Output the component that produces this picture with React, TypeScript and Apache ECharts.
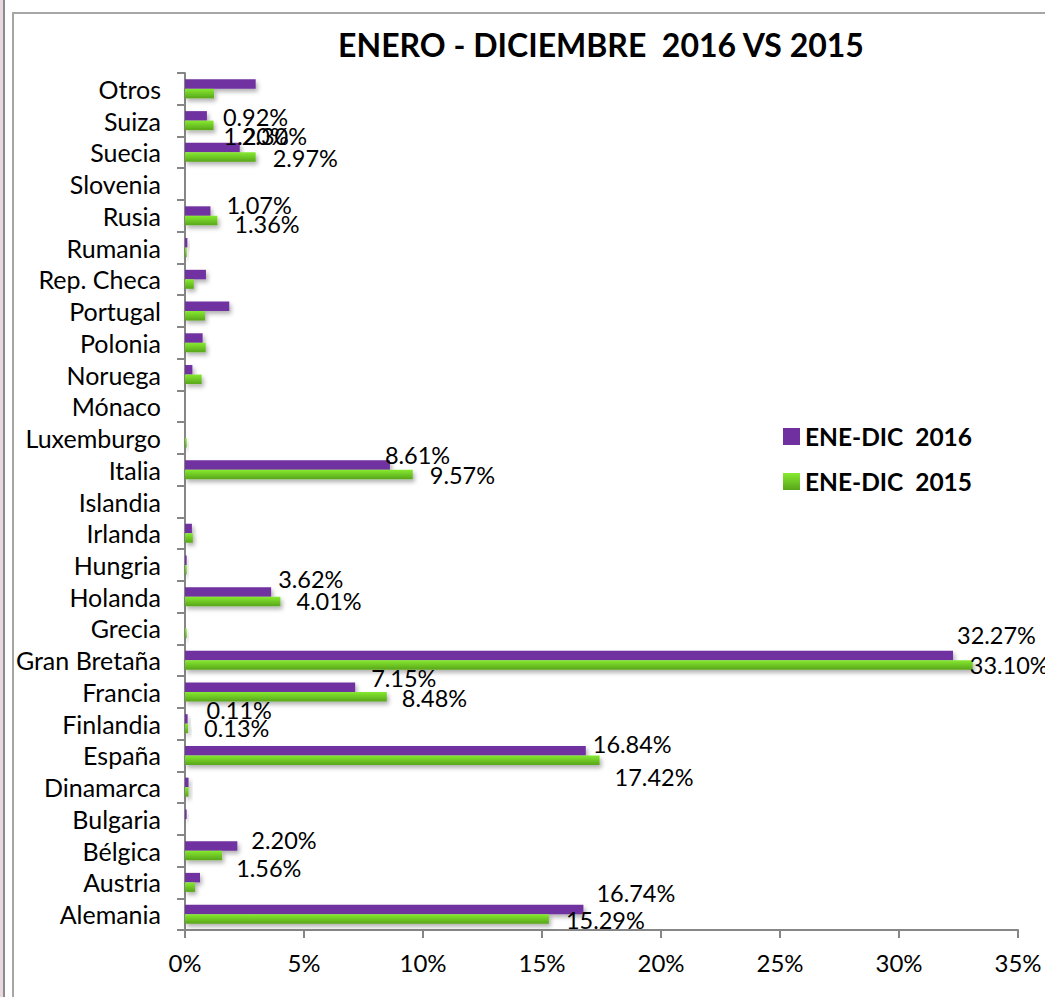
import React, { useEffect, useRef } from "react";
import * as echarts from "echarts";

const categories = [
  "Alemania", "Austria", "Bélgica", "Bulgaria", "Dinamarca", "España", "Finlandia",
  "Francia", "Gran Bretaña", "Grecia", "Holanda", "Hungria", "Irlanda", "Islandia",
  "Italia", "Luxemburgo", "Mónaco", "Noruega", "Polonia", "Portugal", "Rep. Checa",
  "Rumania", "Rusia", "Slovenia", "Suecia", "Suiza", "Otros",
];

const values2016 = [
  16.74, 0.63, 2.2, 0.07, 0.15, 16.84, 0.11,
  7.15, 32.27, 0, 3.62, 0.07, 0.29, 0,
  8.61, 0, 0, 0.31, 0.74, 1.86, 0.88,
  0.1, 1.07, 0, 2.3, 0.92, 2.97,
];

const values2015 = [
  15.29, 0.42, 1.56, 0, 0.15, 17.42, 0.13,
  8.48, 33.1, 0.07, 4.01, 0.07, 0.33, 0,
  9.57, 0.07, 0, 0.7, 0.87, 0.84, 0.37,
  0.07, 1.36, 0, 2.97, 1.2, 1.22,
];

const xTicks = [0, 5, 10, 15, 20, 25, 30, 35];

const seriesNames = ["ENE-DIC  2016", "ENE-DIC  2015"];
const title = "ENERO - DICIEMBRE  2016 VS 2015";

// which bars carry a value label, and where it is nudged (style only)
const labelOffsets2016: Record<string, [number, number]> = {
  Suiza: [11, 1],
  Suecia: [-3, -12],
  Rusia: [11, -6],
  Italia: [-10, -10],
  Holanda: [2, -13],
  "Gran Bretaña": [-1, -20],
  Francia: [11, -9],
  Finlandia: [14, -9],
  España: [2, -7],
  Bélgica: [9, -6],
  Alemania: [8, -16],
};
const labelOffsets2015: Record<string, [number, number]> = {
  Suiza: [5, 11],
  Suecia: [12, 1],
  Rusia: [12, 3],
  Italia: [12, 0],
  Holanda: [11, 0],
  "Gran Bretaña": [-8, 0],
  Francia: [10, 1],
  Finlandia: [11, 0],
  España: [10, 17],
  Bélgica: [9, 13],
  Alemania: [12, 1],
};

const FONT = "Lato, 'Open Sans', sans-serif";
const PURPLE = "#7030A0";
const greenGrad = () =>
  new echarts.graphic.LinearGradient(0, 0, 0, 1, [
    { offset: 0, color: "#86ea30" },
    { offset: 1, color: "#58a51a" },
  ]);

function buildData(vals: number[], offsets: Record<string, [number, number]>) {
  return vals.map((v, i) => {
    const off = offsets[categories[i]];
    if (!off) return { value: v, label: { show: false } };
    return {
      value: v,
      label: {
        show: true,
        position: "right",
        offset: off,
        formatter: (p: any) => `${Number(p.value).toFixed(2)}%`,
      },
    };
  });
}

export default function App() {
  const ref = useRef<HTMLDivElement>(null);
  useEffect(() => {
    if (!ref.current) return;
    const chart = echarts.init(ref.current, null, { renderer: "svg" });
    const labelStyle = { fontFamily: FONT, fontSize: 23.5, color: "#000" };
    chart.setOption({
      animation: false,
      backgroundColor: "#fff",
      title: {
        text: title,
        left: 596,
        top: 23,
        textAlign: "center",
        textStyle: { fontFamily: FONT, fontSize: 32, fontWeight: "bold", color: "#000" },
      },
      legend: {
        orient: "vertical",
        left: 778,
        top: 419,
        itemWidth: 17,
        itemHeight: 17,
        itemGap: 20,
        icon: "rect",
        data: seriesNames,
        textStyle: { fontFamily: FONT, fontSize: 24.5, fontWeight: "bold", color: "#000", padding: [0, 0, 0, 0] },
      },
      grid: { left: 185, right: 27, top: 73, bottom: 67, containLabel: false },
      xAxis: {
        type: "value",
        min: xTicks[0],
        max: xTicks[xTicks.length - 1],
        interval: 5,
        splitLine: { show: false },
        axisLine: { show: true, lineStyle: { color: "#868686", width: 2 } },
        axisTick: { show: true, length: 8, lineStyle: { color: "#868686", width: 2 } },
        axisLabel: {
          margin: 20,
          formatter: (v: number) => `${v}%`,
          fontFamily: FONT,
          fontSize: 24,
          color: "#000",
        },
      },
      yAxis: {
        type: "category",
        data: categories,
        axisLine: { show: true, lineStyle: { color: "#868686", width: 2 } },
        axisTick: { show: true, length: 8, lineStyle: { color: "#868686", width: 2 } },
        axisLabel: { margin: 24, fontFamily: FONT, fontSize: 25, color: "#000", interval: 0 },
      },
      series: [
        {
          name: seriesNames[0],
          type: "bar",
          barWidth: 9.5,
          barGap: "0%",
          itemStyle: {
            color: PURPLE,
            shadowColor: "rgba(0,0,0,0.3)",
            shadowBlur: 4,
            shadowOffsetX: 2,
            shadowOffsetY: 3,
          },
          label: labelStyle,
          data: buildData(values2016, labelOffsets2016),
        },
        {
          name: seriesNames[1],
          type: "bar",
          barWidth: 9.5,
          barGap: "0%",
          itemStyle: {
            color: greenGrad(),
            shadowColor: "rgba(0,0,0,0.3)",
            shadowBlur: 4,
            shadowOffsetX: 2,
            shadowOffsetY: 3,
          },
          label: labelStyle,
          data: buildData(values2015, labelOffsets2015),
        },
      ],
      graphic: [
        {
          type: "rect",
          shape: { x: 13, y: 13, width: 1200, height: 1200 },
          style: { fill: "none", stroke: "#a6a6a6", lineWidth: 2 },
          silent: true,
        },
        {
          type: "rect",
          shape: { x: 0, y: 0, width: 3, height: 997 },
          style: { fill: "#ead8e0" },
          silent: true,
        },
        {
          type: "line",
          shape: { x1: 4, y1: 0, x2: 4, y2: 997 },
          style: { stroke: "#8c8c8c", lineWidth: 2 },
          silent: true,
        },
      ],
    });
    return () => chart.dispose();
  }, []);
  return (
    <div
      ref={ref}
      style={{ position: "fixed", left: 0, top: 0, width: 1045, height: 997 }}
    />
  );
}
